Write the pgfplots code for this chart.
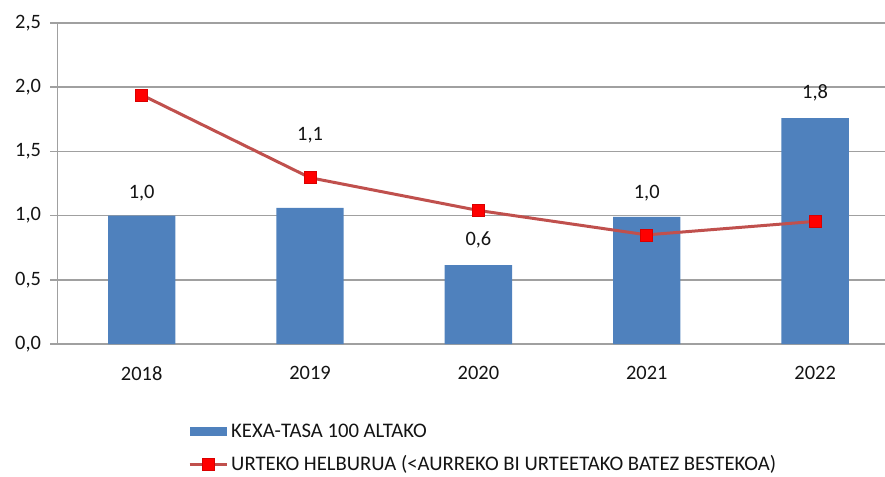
\documentclass[border=0pt]{standalone}
\usepackage{pgfplots}
\usepackage{pgfplotstable}
\pgfplotsset{compat=1.18}
\usepackage{fontspec}
\setmainfont{Carlito}
\definecolor{barblue}{HTML}{4F81BD}
\definecolor{linered}{HTML}{C0504D}
\definecolor{gridgray}{HTML}{A0A0A0}
\definecolor{mkred}{HTML}{FF0000}

\pgfplotsset{
  mylegline/.style={legend image code/.code={\draw[mark repeat=2, mark phase=2, ##1] plot coordinates {(0bp,0bp) (18.5bp,0bp) (37bp,0bp)};}},
  mylegbar/.style={legend image code/.code={\fill[barblue] (0bp,-4.5bp) rectangle (37bp,4.5bp);}},
}

\pgfplotstableread{
x val lab off
0 1.00 1,0 22
1 1.06 1,1 73
2 0.615 0,6 25
3 0.99 1,0 24
4 1.76 1,8 25
}\bars
\pgfplotstableread{
x val
0 1.94
1 1.295
2 1.04
3 0.85
4 0.955
}\target

\begin{document}
\begin{tikzpicture}
\begin{axis}[
  name=ax,
  scale only axis,
  width=827.5bp, height=321bp,
  xmin=-0.5, xmax=4.415, ymin=0, ymax=2.5,
  axis lines*=left,
  axis line style={gridgray, line width=1.6bp},
  ytick={0,0.5,1,1.5,2,2.5},
  ymajorgrids,
  grid style={gridgray, line width=1.6bp},
  xtick={0,1,2,3,4},
  xticklabels={2018,2019,2020,2021,2022},
  major x tick style={draw=none},
  extra x ticks={-0.5,0.5,1.5,2.5,3.5},
  extra x tick labels={},
  extra x tick style={major tick length=6bp, tick style={gridgray, line width=1.6bp}},
  tick align=outside,
  major tick length=7bp,
  y tick style={gridgray, line width=1.6bp},
  /pgf/number format/assume math mode=true,
  y tick label style={/pgf/number format/fixed, /pgf/number format/fixed zerofill, /pgf/number format/precision=1, /pgf/number format/use comma, xshift=-6bp},
  ticklabel style={font=\fontsize{20.5}{24}\selectfont, text=black!92},
  x tick label style={yshift=-12bp},
  legend style={at={(axis description cs:0.1577,-0.24)}, anchor=north west, draw=none, fill=none,
    font=\fontsize{20.8}{24}\selectfont, text=black!92, row sep=10.5bp, inner sep=0pt,
    nodes={inner sep=3bp}},
  legend cell align=left,
]
\addplot[ybar, bar width=0.4, bar shift=0pt, fill=barblue, draw=none,
  point meta=explicit symbolic,
  nodes near coords,
  visualization depends on={\thisrow{off} \as \myoff},
  nodes near coords style={anchor=center, yshift=\myoff*1bp, text=black!92, font=\fontsize{20.5}{24}\selectfont},
  mylegbar
] table[x=x, y=val, meta=lab] {\bars};
\addlegendentry{KEXA-TASA 100 ALTAKO}
\addplot[linered, line width=3bp, mark=square*, mark size=6bp,
  mark options={fill=mkred, draw=mkred!85!black, line width=0.6bp},
  mylegline
] table[x=x, y=val] {\target};
\addlegendentry{URTEKO HELBURUA (<AURREKO BI URTEETAKO BATEZ BESTEKOA)}
\end{axis}
\pgfresetboundingbox
\path ([shift={(-57.5bp,-133bp)}]ax.south west) rectangle ([shift={(0bp,23bp)}]ax.north east);
\end{tikzpicture}
\end{document}
